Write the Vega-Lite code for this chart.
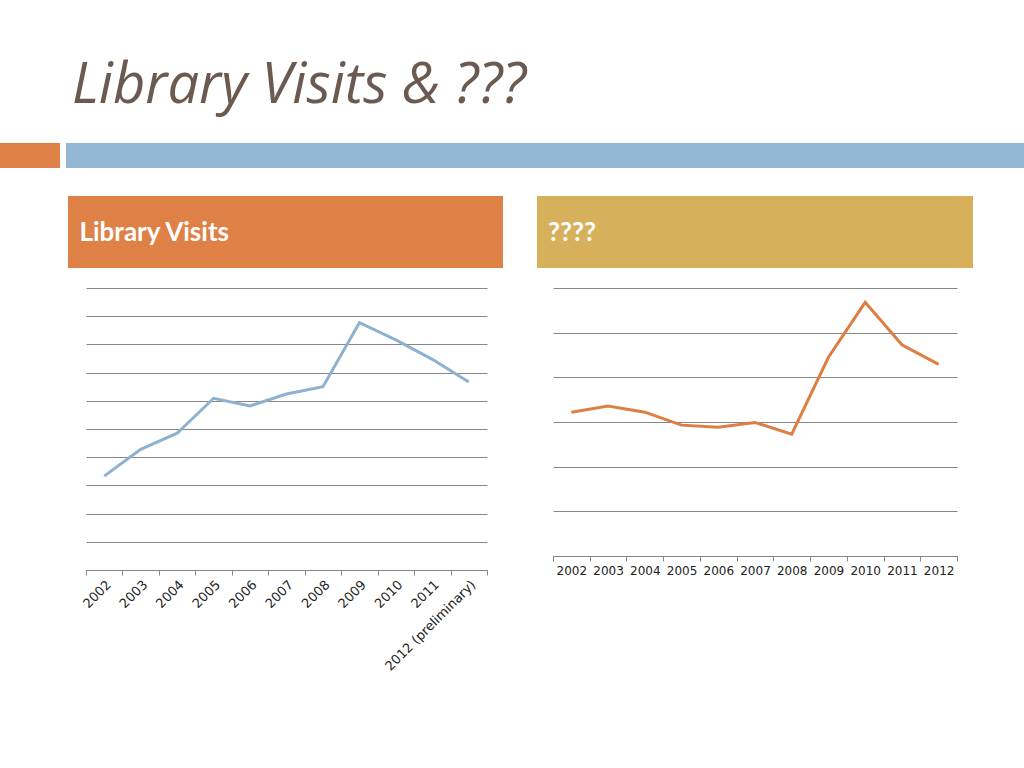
{
  "$schema": "https://vega.github.io/schema/vega-lite/v6.json",
  "background": "white",
  "padding": {"left": 0, "top": 58, "right": 0, "bottom": 0},
  "autosize": {"type": "pad"},
  "title": {
    "text": "Library Visits & ???",
    "anchor": "start",
    "frame": "group",
    "dx": 72,
    "offset": -16,
    "baseline": "alphabetic",
    "font": "Open Sans",
    "fontStyle": "italic",
    "fontWeight": "normal",
    "fontSize": 56,
    "color": "#6B5A50"
  },
  "spacing": 28,
  "vconcat": [
    {
      "spacing": 6,
      "bounds": "flush",
      "hconcat": [
        {"width": 60, "height": 25, "view": {"fill": "#DF8047"}, "data": {"values": []}, "mark": "point"},
        {"width": 958, "height": 25, "view": {"fill": "#93B6D3"}, "data": {"values": []}, "mark": "point"}
      ]
    },
    {
      "spacing": 20,
      "vconcat": [
        {
          "spacing": 0,
          "bounds": "flush",
          "hconcat": [
            {"width": 68, "height": 72, "data": {"values": []}, "mark": "point"},
            {
              "width": 435,
              "height": 72,
              "view": {"fill": "#DF8047"},
              "data": {"values": [{"label": "Library Visits"}]},
              "mark": {"type": "text", "align": "left", "baseline": "middle", "dx": -206, "dy": 1, "font": "Lato", "fontWeight": "bold", "fontSize": 26, "color": "white"},
              "encoding": {"text": {"field": "label"}}
            },
            {"width": 34, "height": 72, "data": {"values": []}, "mark": "point"},
            {
              "width": 436,
              "height": 72,
              "view": {"fill": "#D6B05B"},
              "data": {"values": [{"label": "????"}]},
              "mark": {"type": "text", "align": "left", "baseline": "middle", "dx": -207, "dy": 1, "font": "Lato", "fontWeight": "bold", "fontSize": 26, "color": "white"},
              "encoding": {"text": {"field": "label"}}
            }
          ]
        },
        {
          "spacing": 0,
          "bounds": "flush",
          "hconcat": [
            {"width": 86, "height": 10, "data": {"values": []}, "mark": "point"},
            {
              "width": 401,
              "height": 282,
              "data": {
                "values": [
                  {"year": "2002", "visits": 3.33},
                  {"year": "2003", "visits": 4.28},
                  {"year": "2004", "visits": 4.85},
                  {"year": "2005", "visits": 6.09},
                  {"year": "2006", "visits": 5.82},
                  {"year": "2007", "visits": 6.24},
                  {"year": "2008", "visits": 6.5},
                  {"year": "2009", "visits": 8.77},
                  {"year": "2010", "visits": 8.16},
                  {"year": "2011", "visits": 7.47},
                  {"year": "2012 (preliminary)", "visits": 6.67}
                ]
              },
              "mark": {"type": "line", "color": "#8FB1D0", "strokeWidth": 3},
              "encoding": {
                "x": {
                  "field": "year",
                  "type": "ordinal",
                  "sort": null,
                  "scale": {"type": "band", "paddingInner": 0, "paddingOuter": 0},
                  "axis": {
                    "title": null,
                    "tickBand": "extent",
                    "labelAngle": -45,
                    "labelPadding": 3,
                    "grid": false,
                    "domainColor": "#868686",
                    "tickColor": "#868686",
                    "tickSize": 5,
                    "labelFont": "DejaVu Sans",
                    "labelFontSize": 13,
                    "labelColor": "#222222"
                  }
                },
                "y": {
                  "field": "visits",
                  "type": "quantitative",
                  "scale": {"domain": [0, 10]},
                  "axis": {
                    "title": null,
                    "labels": false,
                    "ticks": false,
                    "domain": false,
                    "values": [0, 1, 2, 3, 4, 5, 6, 7, 8, 9, 10],
                    "gridColor": "#868686",
                    "gridOpacity": 1
                  }
                }
              }
            },
            {"width": 66, "height": 10, "data": {"values": []}, "mark": "point"},
            {
              "width": 404,
              "height": 268,
              "data": {
                "values": [
                  {"year": "2002", "value": 3.22},
                  {"year": "2003", "value": 3.36},
                  {"year": "2004", "value": 3.22},
                  {"year": "2005", "value": 2.93},
                  {"year": "2006", "value": 2.88},
                  {"year": "2007", "value": 2.99},
                  {"year": "2008", "value": 2.73},
                  {"year": "2009", "value": 4.45},
                  {"year": "2010", "value": 5.68},
                  {"year": "2011", "value": 4.73},
                  {"year": "2012", "value": 4.29}
                ]
              },
              "mark": {"type": "line", "color": "#DD7E43", "strokeWidth": 3},
              "encoding": {
                "x": {
                  "field": "year",
                  "type": "ordinal",
                  "sort": null,
                  "scale": {"type": "band", "paddingInner": 0, "paddingOuter": 0},
                  "axis": {
                    "title": null,
                    "tickBand": "extent",
                    "labelAngle": 0,
                    "labelPadding": 4,
                    "grid": false,
                    "domainColor": "#868686",
                    "tickColor": "#868686",
                    "tickSize": 5,
                    "labelFont": "DejaVu Sans",
                    "labelFontSize": 12,
                    "labelColor": "#222222"
                  }
                },
                "y": {
                  "field": "value",
                  "type": "quantitative",
                  "scale": {"domain": [0, 6]},
                  "axis": {
                    "title": null,
                    "labels": false,
                    "ticks": false,
                    "domain": false,
                    "values": [0, 1, 2, 3, 4, 5, 6],
                    "gridColor": "#868686",
                    "gridOpacity": 1
                  }
                }
              }
            }
          ]
        }
      ]
    }
  ],
  "config": {
    "view": {"stroke": null},
    "axis": {"domainWidth": 1, "gridWidth": 1}
  }
}
